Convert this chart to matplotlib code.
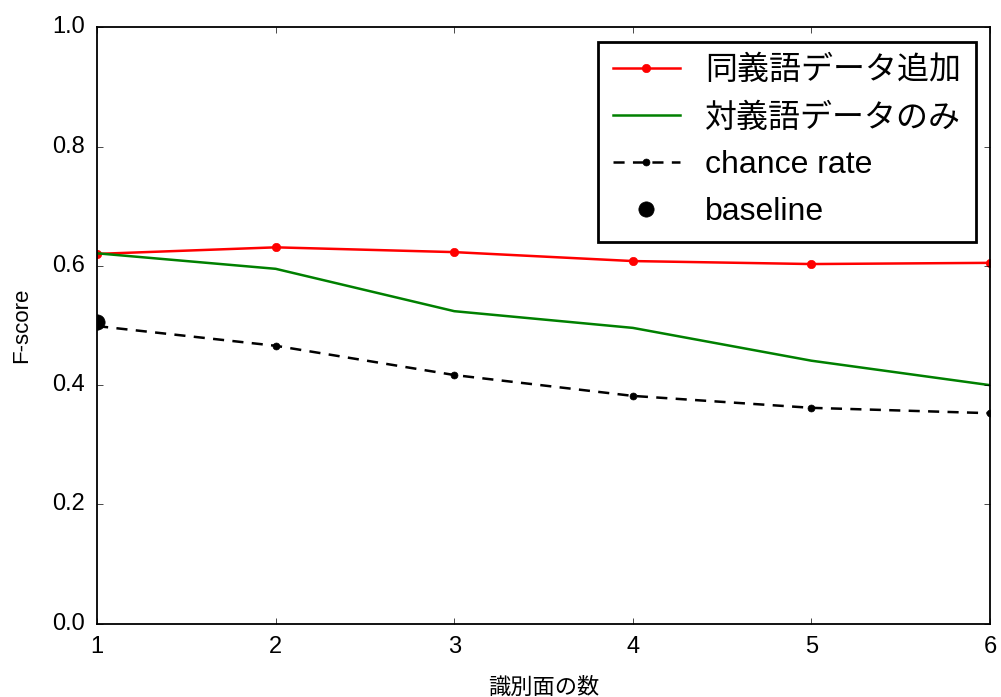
import matplotlib
matplotlib.use("Agg")
import matplotlib.pyplot as plt

plt.style.use("classic")
plt.rcParams["font.family"] = ["Liberation Sans", "Noto Sans CJK JP", "DejaVu Sans"]

# number of discriminative surfaces
n_planes = [1, 2, 3, 4, 5, 6]
synonym_added = [0.620, 0.631, 0.623, 0.608, 0.603, 0.605]
antonym_only = [0.621, 0.595, 0.524, 0.496, 0.441, 0.400]
chance_rate = [0.499, 0.466, 0.417, 0.382, 0.362, 0.353]
baseline_x = [1]
baseline_y = [0.506]

fig = plt.figure(figsize=(10.01, 6.97), dpi=100, facecolor="white")
ax = fig.add_axes([0.097, 0.105, 0.892, 0.856])

ax.plot(n_planes, synonym_added, color="red", marker="o", markersize=6,
        markeredgecolor="red", linewidth=1.8, label="同義語データ追加")
ax.plot(n_planes, antonym_only, color="green", linewidth=1.8, label="対義語データのみ")
ax.plot(n_planes, chance_rate, color="black", linestyle="--", marker="o", markersize=5,
        linewidth=1.8, dashes=(8, 6), label="chance rate")
ax.plot(baseline_x, baseline_y, "o", color="black", markersize=11, label="baseline")

ax.set_xlim(1, 6)
ax.set_ylim(0, 1.0)
ax.set_xticks(n_planes)
ax.set_yticks([0.0, 0.2, 0.4, 0.6, 0.8, 1.0])
ax.tick_params(labelsize=17, pad=9)
for s in ax.spines.values():
    s.set_linewidth(1.3)
ax.set_xlabel("識別面の数", fontsize=16, labelpad=14)
ax.set_ylabel("F-score", fontsize=16, labelpad=14)

leg = ax.legend(loc="upper right", numpoints=1, fontsize=23, handlelength=2.1,
                labelspacing=0.53, handletextpad=0.8, borderpad=0.45,
                borderaxespad=0.45, fancybox=False, frameon=True)
leg.get_frame().set_linewidth(2)

fig.savefig("out.png", dpi=100, facecolor="white")
